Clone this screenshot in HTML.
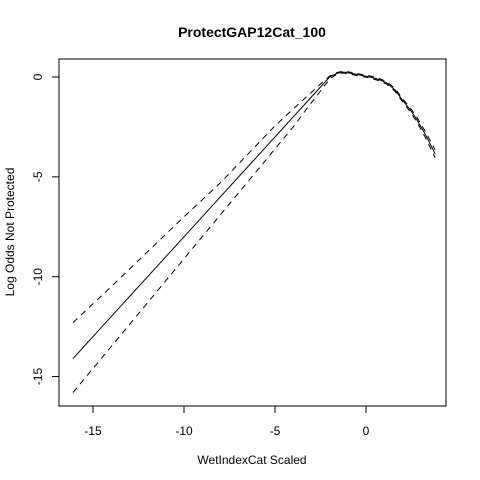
<!DOCTYPE html>
<html><head><meta charset="utf-8"><style>
body{margin:0;background:#fff}
svg{display:block;font-family:"Liberation Sans",Arial,sans-serif}
</style></head><body>
<svg id="chart" width="480" height="480">
<text x="252" y="37" text-anchor="middle" font-weight="bold" font-size="14">ProtectGAP12Cat_100</text>
<text x="252" y="464" text-anchor="middle" font-size="12">WetIndexCat Scaled</text>
<text transform="translate(14,232) rotate(-90)" text-anchor="middle" font-size="12">Log Odds Not Protected</text>
<rect x="59" y="59" width="387" height="347" fill="none" stroke="#000"/>
<g id="axes"></g>
<g id="series"></g>
</svg>
<script>
const xs    = [-16.1, -14, -12, -10, -8, -6, -5, -4, -3.1, -2.5, -2.0, -1.6, -1.26, -0.8, 0.22, 0.7, 1.15, 1.6, 2.0, 2.4, 2.8, 3.3, 3.8];
const fit   = [-14.1, -12.0, -10.0, -8.0, -6.0, -4.0, -3.0, -2.0, -1.1, -0.5, 0.0, 0.18, 0.25, 0.18, 0.0, -0.12, -0.3, -0.65, -1.15, -1.6, -2.15, -2.95, -3.85];
const upper = [-12.3, -10.5, -8.75, -7.0, -5.3, -3.4, -2.45, -1.6, -0.85, -0.35, 0.05, 0.22, 0.3, 0.23, 0.05, -0.06, -0.24, -0.58, -1.07, -1.5, -2.03, -2.8, -3.65];
const lower = [-15.8, -13.5, -11.3, -9.1, -6.9, -4.7, -3.6, -2.5, -1.4, -0.7, -0.1, 0.14, 0.2, 0.13, -0.05, -0.18, -0.36, -0.72, -1.23, -1.7, -2.27, -3.1, -4.05];
const xTicks = [-15, -10, -5, 0];
const yTicks = [0, -5, -10, -15];
const X = v => 366 + v * 18.2;
const Y = v => 77 - v * 19.97;
const NS = "http://www.w3.org/2000/svg";
const axes = document.getElementById('axes');
const series = document.getElementById('series');
function mk(tag, attrs, parent){const e=document.createElementNS(NS,tag);for(const k in attrs)e.setAttribute(k,attrs[k]);parent.appendChild(e);return e;}
xTicks.forEach(t=>{
  const l=mk('line',{x1:X(t),x2:X(t),y1:406,y2:413,stroke:'#000'},axes);
  
  
  const tx=mk('text',{x:X(t),y:435,'text-anchor':'middle','font-size':12},axes);
  tx.textContent=t;
  
  
});
yTicks.forEach(t=>{
  const l=mk('line',{x1:52,x2:59,y1:Y(t),y2:Y(t),stroke:'#000'},axes);
  
  
  const tx=mk('text',{x:0,y:0,'text-anchor':'middle','font-size':12,transform:`translate(42,${Y(t)}) rotate(-90)`},axes);
  tx.textContent=t;
  
  
});
function line(arr, dash, name){
  const d=xs.map((x,i)=>(i?'L':'M')+X(x).toFixed(1)+','+Y(arr[i]).toFixed(1)).join('');
  const p=mk('path',{d:d,fill:'none',stroke:'#000','stroke-width':1},series);
  if(dash)p.setAttribute('stroke-dasharray',dash);
  
  
}
line(upper,'6,5','upper-ci-line');
line(lower,'6,5','lower-ci-line');
line(fit,null,'fit-line');
</script>
</body></html>
